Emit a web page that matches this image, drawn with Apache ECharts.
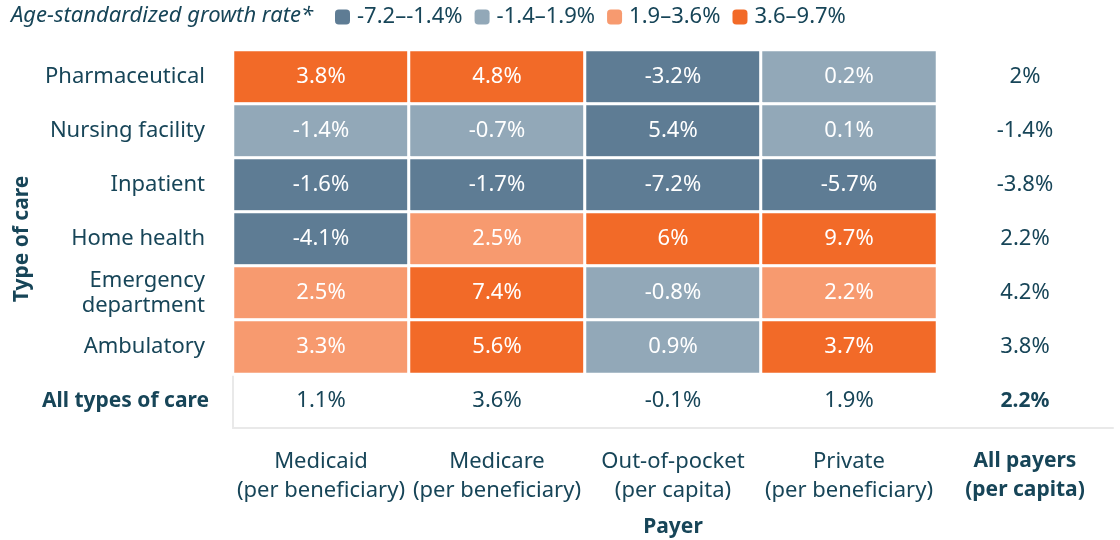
<!DOCTYPE html>
<html>
<head>
<meta charset="utf-8">
<script src="https://cdn.jsdelivr.net/npm/echarts@6/dist/echarts.min.js"></script>
<style>
  html, body { margin: 0; padding: 0; background: #fff; }
  #chart { width: 1120px; height: 540px; }
</style>
</head>
<body>
<div id="chart"></div>
<script>
const careTypes = ["Pharmaceutical", "Nursing facility", "Inpatient", "Home health", "Emergency department", "Ambulatory"];
const payers = ["Medicaid", "Medicare", "Out-of-pocket", "Private"];
const payerNotes = ["per beneficiary", "per beneficiary", "per capita", "per beneficiary"];
// growth rate (%) by care type (rows) x payer (cols)
const growth = [
  [3.8, 4.8, -3.2, 0.2],
  [-1.4, -0.7, 5.4, 0.1],
  [-1.6, -1.7, -7.2, -5.7],
  [-4.1, 2.5, 6, 9.7],
  [2.5, 7.4, -0.8, 2.2],
  [3.3, 5.6, 0.9, 3.7]
];
// legend bin of each cell as coloured in the source (0 = lowest)
const shade = [
  [3, 3, 0, 1],
  [1, 1, 0, 1],
  [0, 0, 0, 0],
  [0, 2, 3, 3],
  [2, 3, 1, 2],
  [2, 3, 1, 3]
];
const allPayers = [2, -1.4, -3.8, 2.2, 4.2, 3.8];   // right column
const allTypes = [1.1, 3.6, -0.1, 1.9];              // bottom row
const overall = 2.2;
const binLabels = ["-7.2–-1.4%", "-1.4–1.9%", "1.9–3.6%", "3.6–9.7%"];
const binColors = ["#5e7c94", "#92a8b8", "#f79a6f", "#f26a28"];

const ink = "#174558";
const font = "Noto Sans";
const line = "#e9e9e9";

const yCats = careTypes.concat(["All types of care"]);
const xCats = payers.concat(["All payers"]);
const xNotes = payerNotes.concat(["per capita"]);

const cells = [];
growth.forEach((row, r) => row.forEach((v, c) => cells.push([c, r, v, shade[r][c]])));
const totals = [];
allPayers.forEach((v, r) => totals.push([payers.length, r, v]));
allTypes.forEach((v, c) => totals.push([c, careTypes.length, v]));
totals.push({ value: [payers.length, careTypes.length, overall], label: { fontWeight: "bold", fontSize: 21 } });

const chart = echarts.init(document.getElementById("chart"));
chart.setOption({
  textStyle: { fontFamily: font },
  animation: false,
  title: {
    text: "Age-standardized growth rate*",
    left: 11, top: 5, padding: 0,
    textStyle: { fontFamily: font, fontStyle: "italic", fontWeight: "normal", fontSize: 22, color: ink }
  },
  visualMap: {
    type: "piecewise",
    seriesIndex: 0,
    dimension: 3,
    orient: "horizontal",
    left: 335, top: 6, padding: 0,
    itemWidth: 15, itemHeight: 15,
    itemGap: 12, textGap: 7,
    selectedMode: false,
    textStyle: { fontFamily: font, fontSize: 22, color: ink },
    pieces: binLabels.map((label, i) => ({ value: i, label, color: binColors[i] }))
  },
  grid: { left: 233, right: 7, top: 50, bottom: 112, outerBoundsMode: "none" },
  xAxis: {
    type: "category",
    data: xCats,
    name: "Payer",
    nameLocation: "middle",
    nameGap: 89,
    nameTextStyle: { fontFamily: font, fontWeight: "bold", fontSize: 21, color: ink },
    axisLine: { lineStyle: { color: line, width: 2 } },
    axisTick: { alignWithLabel: true, length: 9, lineStyle: { color: line, width: 2 } },
    splitLine: { show: false },
    axisLabel: {
      interval: 0, hideOverlap: false,
      margin: 19,
      fontSize: 22, lineHeight: 29, color: ink,
      formatter: (v, i) => {
        const t = v + "\n(" + xNotes[i] + ")";
        return i === payers.length ? "{b|" + v + "}\n{b|(" + xNotes[i] + ")}" : t;
      },
      rich: { b: { fontWeight: "bold", fontSize: 21, lineHeight: 29, color: ink, fontFamily: font } }
    }
  },
  yAxis: {
    type: "category",
    data: yCats,
    inverse: true,
    name: "Type of care",
    nameLocation: "middle",
    nameGap: 200,
    nameRotate: 90,
    nameMoveOverlap: false,
    nameTextStyle: { fontFamily: font, fontWeight: "bold", fontSize: 21, color: ink },
    axisLine: { lineStyle: { color: line, width: 2 } },
    axisTick: { alignWithLabel: true, length: 9, lineStyle: { color: line, width: 2 } },
    splitLine: { show: false },
    axisLabel: {
      interval: 0, hideOverlap: false,
      margin: 28,
      fontSize: 22, lineHeight: 25, color: ink,
      formatter: (v) => v === "Emergency department" ? "Emergency\ndepartment"
        : v === "All types of care" ? "{b|" + v + "}" : v,
      rich: { b: { fontWeight: "bold", fontSize: 21, color: ink, fontFamily: font, padding: [0, -4, 0, 0] } }
    }
  },
  series: [
    {
      type: "heatmap",
      data: cells,
      itemStyle: { borderColor: "#fff", borderWidth: 3 },
      label: {
        show: true, fontSize: 22, color: "#fff", fontFamily: font,
        formatter: (p) => p.value[2] + "%"
      },
      emphasis: { disabled: true }
    },
    {
      type: "heatmap",
      data: totals,
      itemStyle: { color: "rgba(0,0,0,0)" },
      label: {
        show: true, fontSize: 22, color: ink, fontFamily: font,
        formatter: (p) => p.value[2] + "%"
      },
      emphasis: { disabled: true }
    }
  ]
});
</script>
</body>
</html>
